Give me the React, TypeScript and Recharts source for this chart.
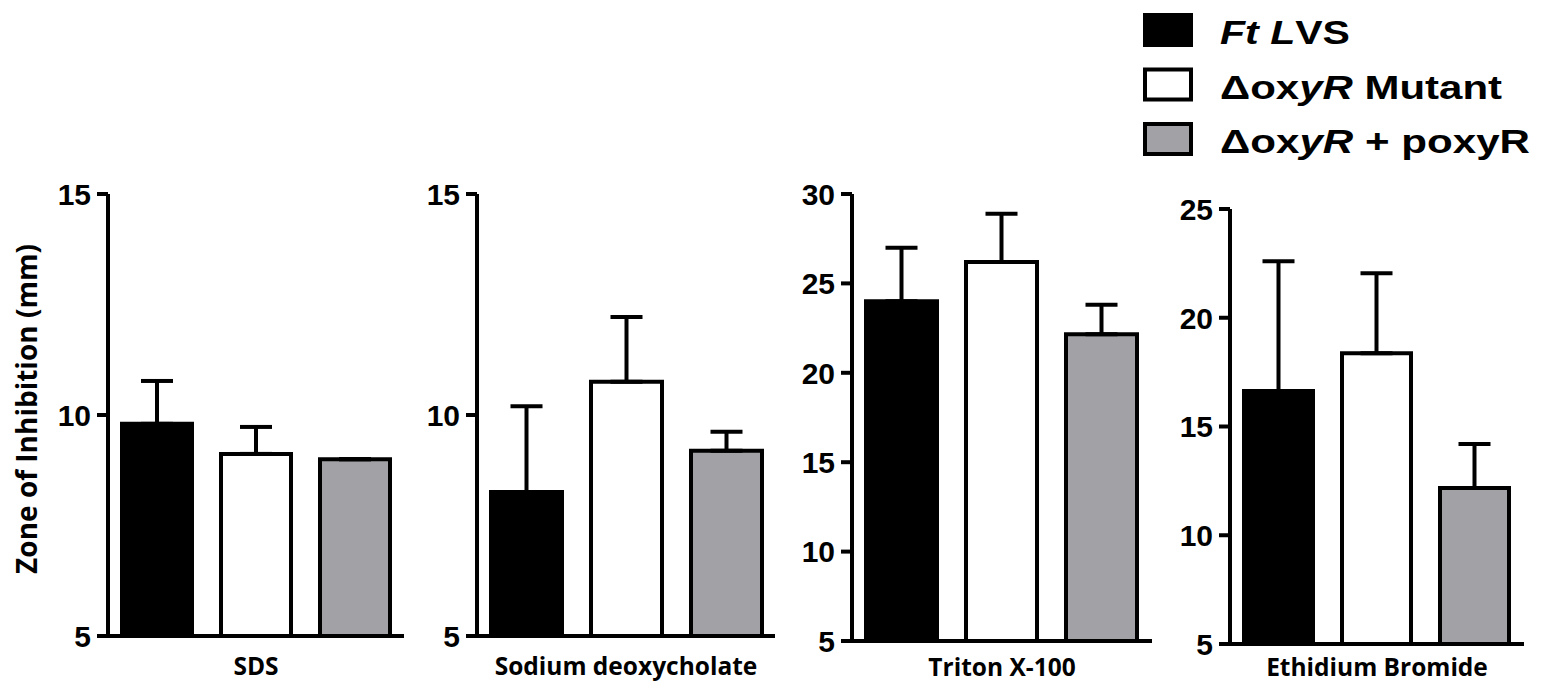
import { BarChart, Bar, XAxis, YAxis, ErrorBar } from "recharts"

const categories = ["SDS", "Sodium deoxycholate", "Triton X-100", "Ethidium Bromide"]
const lvsMean = [9.8, 8.26, 24.0, 16.63]
const lvsErr = [0.97, 1.94, 3.0, 5.97]
const mutantMean = [9.12, 10.75, 26.2, 18.37]
const mutantErr = [0.61, 1.47, 2.7, 3.68]
const compMean = [9.0, 9.19, 22.15, 12.17]
const compErr = [0, 0.43, 1.65, 2.02]
const yTicks = [
  [5, 10, 15],
  [5, 10, 15],
  [5, 10, 15, 20, 25, 30],
  [5, 10, 15, 20, 25],
]
const yTitle = "Zone of Inhibition (mm)"

const series = [
  { key: "lvs", fill: "#000000", label: [["Ft L", true], ["VS", false]] },
  { key: "mutant", fill: "#ffffff", label: [["\u0394ox", false], ["yR", true], [" Mutant", false]] },
  { key: "comp", fill: "#a2a2a6", label: [["\u0394ox", false], ["yR", true], [" + poxyR", false]] },
] as const

// plot boxes of the four panels, in page pixels
const panels = [
  { left: 0, width: 420, top: 194, bottom: 636, yWidth: 108, right: 16, catGap: 21 },
  { left: 420, width: 370, top: 194, bottom: 636, yWidth: 57, right: 15, catGap: 21 },
  { left: 790, width: 370, top: 194, bottom: 641, yWidth: 62, right: 8, catGap: 17 },
  { left: 1160, width: 386, top: 209, bottom: 644, yWidth: 70, right: 22, catGap: 14 },
]
const legendWidths = [130, 282, 310]

const H = 683
const XH = 39
const line = { stroke: "#000", strokeWidth: 4 }
const arial = "'Liberation Sans', Arial, sans-serif"
const openSans = "'Open Sans', sans-serif"

function YTick(props: any) {
  const { x, y, payload } = props
  return (
    <text x={x} y={y} dy="0.36em" textAnchor="end" fill="#000" style={{ fontSize: 30, fontWeight: 700, fontFamily: arial }}>
      {payload.value}
    </text>
  )
}

function XTick(props: any) {
  const { x, y, payload } = props
  return (
    <text x={x} y={y} dy="0.72em" textAnchor="middle" fill="#000" style={{ fontSize: 24.5, fontWeight: 700, fontFamily: openSans }}>
      {payload.value}
    </text>
  )
}

function YTitle(props: any) {
  const vb = props.viewBox || {}
  const cx = (vb.x || 0) + 27
  const cy = (vb.y || 0) + (vb.height || 0) / 2 - 6
  return (
    <text
      x={cx}
      y={cy}
      dy="0.36em"
      textAnchor="middle"
      transform={`rotate(-90, ${cx}, ${cy})`}
      fill="#000"
      style={{ fontSize: 28, fontWeight: 700, fontFamily: openSans }}
    >
      {yTitle}
    </text>
  )
}

function Panel({ i }: { i: number }) {
  const p = panels[i]
  const data = [
    {
      name: categories[i],
      lvs: lvsMean[i],
      lvsErr: [0, lvsErr[i]],
      mutant: mutantMean[i],
      mutantErr: [0, mutantErr[i]],
      comp: compMean[i],
      compErr: [0, compErr[i]],
    },
  ]
  const ticks = yTicks[i]
  return (
    <div style={{ position: "absolute", left: p.left, top: 0 }}>
      <BarChart
        width={p.width}
        height={H}
        data={data}
        margin={{ top: p.top, bottom: H - p.bottom - XH, left: 0, right: p.right }}
        barCategoryGap={14}
        barGap={29}
      >
        <XAxis
          dataKey="name"
          axisLine={line}
          tickLine={false}
          tickSize={0}
          tickMargin={p.catGap}
          height={XH}
          tick={<XTick />}
        />
        <YAxis
          type="number"
          domain={[ticks[0], ticks[ticks.length - 1]]}
          ticks={ticks}
          interval={0}
          width={p.yWidth}
          axisLine={line}
          tickLine={line}
          tickSize={11}
          tickMargin={6}
          tick={<YTick />}
          label={i === 0 ? <YTitle /> : undefined}
        />
        {series.map((s) => (
          <Bar key={s.key} dataKey={s.key} fill={s.fill} stroke="#000" strokeWidth={4} isAnimationActive={false}>
            <ErrorBar dataKey={s.key + "Err"} width={16} stroke="#000" strokeWidth={4} direction="y" />
          </Bar>
        ))}
      </BarChart>
    </div>
  )
}

function Legend() {
  return (
    <svg width={416} height={170} style={{ position: "absolute", left: 1130, top: 0 }}>
      {series.map((s, i) => {
        const y = 13 + i * 54.5
        return (
          <g key={s.key}>
            <rect x={15} y={y + 2} width={46} height={30} fill={s.fill} stroke="#000" strokeWidth={4} />
            <text
              x={90}
              y={y + 31}
              textLength={legendWidths[i]}
              lengthAdjust="spacingAndGlyphs"
              style={{ fontSize: 34, fontWeight: 700, fontFamily: arial, fill: "#000" }}
            >
              {s.label.map(([t, it], j) => (
                <tspan key={j} fontStyle={it ? "italic" : "normal"}>
                  {t}
                </tspan>
              ))}
            </text>
          </g>
        )
      })}
    </svg>
  )
}

export default function App() {
  return (
    <div style={{ position: "absolute", left: 0, top: 0, width: 1546, height: H, background: "#fff", overflow: "hidden" }}>
      {panels.map((_, i) => (
        <Panel key={i} i={i} />
      ))}
      <Legend />
    </div>
  )
}
